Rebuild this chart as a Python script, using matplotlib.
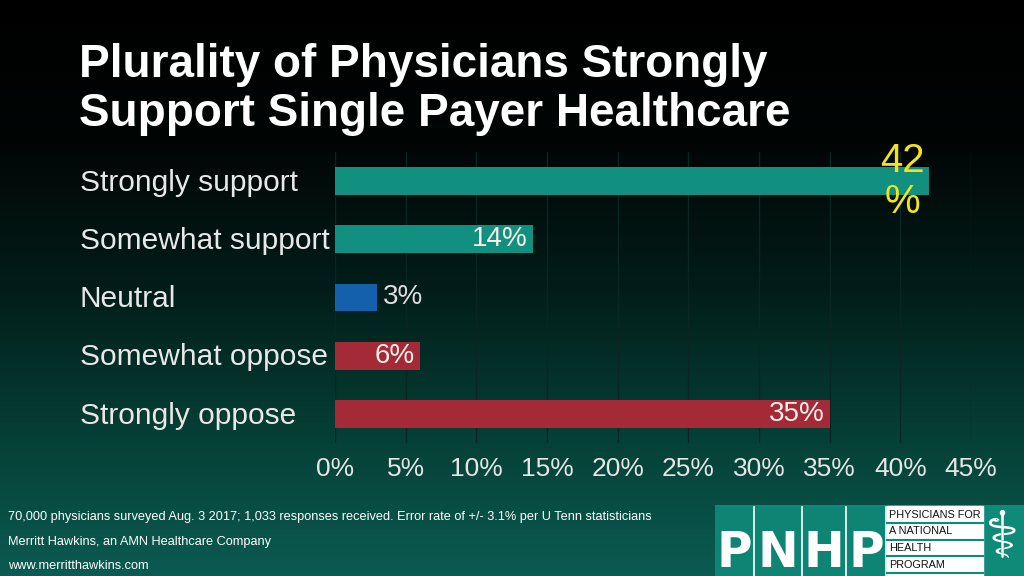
import numpy as np
import matplotlib
matplotlib.use("Agg")
import matplotlib.pyplot as plt
from matplotlib.patches import Rectangle
from matplotlib.colors import LinearSegmentedColormap
from matplotlib.transforms import blended_transform_factory

categories = ["Strongly support", "Somewhat support", "Neutral",
              "Somewhat oppose", "Strongly oppose"]
values = [42, 14, 3, 6, 35]
value_labels = ["42\n%", "14%", "3%", "6%", "35%"]
xticks = [0, 5, 10, 15, 20, 25, 30, 35, 40, 45]
xtick_labels = ["0%", "5%", "10%", "15%", "20%", "25%", "30%", "35%", "40%", "45%"]
title = "Plurality of Physicians Strongly\nSupport Single Payer Healthcare"
footer = ["70,000 physicians surveyed Aug. 3 2017; 1,033 responses received. Error rate of +/- 3.1% per U Tenn statisticians",
          "Merritt Hawkins, an AMN Healthcare Company",
          "www.merritthawkins.com"]

bar_colors = ["#11907f", "#11907f", "#1560ad", "#a52a38", "#a52a38"]

W, H = 1024, 576
fig = plt.figure(figsize=(W / 100, H / 100), dpi=100)

# background gradient
bg = fig.add_axes([0, 0, 1, 1], zorder=-10)
cmap = LinearSegmentedColormap.from_list(
    "bg", [(0.0, "#000000"), (0.25, "#010605"), (0.5, "#021d19"),
           (0.78, "#064238"), (1.0, "#0b5b52")])
grad = np.linspace(0, 1, 256).reshape(-1, 1)
bg.imshow(grad, aspect="auto", cmap=cmap, extent=[0, 1, 1, 0])
bg.set_axis_off()

def fx(px):
    return px / W

def fy(py):
    return 1 - py / H

sans = ["Liberation Sans", "DejaVu Sans"]

# title
fig.text(fx(79), fy(43), title, color="white", fontsize=33, fontweight="bold",
         family=sans, ha="left", va="top", linespacing=1.14)

# chart axes
x0, x1 = 335, 971
ytop, ybot = 152, 443
ax = fig.add_axes([fx(x0), fy(ybot), (x1 - x0) / W, (ybot - ytop) / H])
ax.set_facecolor("none")
ypos = np.arange(len(categories))
ax.barh(ypos, values, height=0.48, color=bar_colors, zorder=3)
ax.set_xlim(0, 45)
ax.set_ylim(len(categories) - 0.5, -0.5)
ax.set_xticks(xticks)
ax.set_xticklabels(xtick_labels, family=sans, fontsize=19, color="#e6e6e6")
ax.tick_params(axis="x", length=0, pad=10)
ax.set_yticks([])
for s in ax.spines.values():
    s.set_visible(False)
ax.grid(axis="x", color="#0b2622", linewidth=1, zorder=0)

# category labels
tr = blended_transform_factory(fig.transFigure, ax.transData)
for y, c in zip(ypos, categories):
    ax.text(fx(80), y + 0.03, c, transform=tr, ha="left", va="center",
            fontsize=21.5, color="#e8e8e8", family=sans)

# value labels
for y, v, lab in zip(ypos, values, value_labels):
    if v >= 40:
        ax.text(v - 1.85, y, lab, ha="center", va="center", fontsize=29,
                color="#f2e41c", family=sans, linespacing=1.1, zorder=5)
    elif v >= 5:
        ax.text(v - 0.35, y, lab, ha="right", va="center", fontsize=20,
                color="#f7eeea", family=sans, zorder=5)
    else:
        ax.text(v + 0.4, y, lab, ha="left", va="center", fontsize=20,
                color="#dddddd", family=sans, zorder=5)

# footer
for i, line in enumerate(footer):
    fig.text(fx(8), fy(517 + i * 24.5), line, color="white", fontsize=9.2,
             family=sans, ha="left", va="center")

# PNHP logo
la = fig.add_axes([fx(715), 0, (W - 715) / W, fy(505)])
la.set_xlim(715, W)
la.set_ylim(576, 505)
la.set_axis_off()
la.add_patch(Rectangle((715, 505), W - 715, 71, color="#0f8a79"))
cells = [(715, 753), (755, 801), (803, 845), (847, 885)]
for (a, b), letter in zip(cells, "PNHP"):
    la.add_patch(Rectangle((a, 507), b - a, 69, color="#0d8474"))
    la.text((a + b) / 2, 553, letter, ha="center", va="center", color="white",
            fontsize=35, fontweight="heavy", family=["DejaVu Sans"])
for xs in [753, 801, 845, 885]:
    la.plot([xs + 1, xs + 1], [507, 576], color="white", lw=1.2)
la.add_patch(Rectangle((887, 506), 96, 70, color="white"))
rows = ["PHYSICIANS FOR", "A NATIONAL", "HEALTH", "PROGRAM"]
for i, r in enumerate(rows):
    yy = 515 + i * 16.5
    la.text(889, yy, r, ha="left", va="center", fontsize=7.8, color="#111111",
            family=sans)
    la.plot([887, 983], [yy + 8, yy + 8], color="#0f8a79", lw=1.5)
la.text(1001, 539, "\u2695", ha="center", va="center", fontsize=46,
        color="white", family=["DejaVu Sans"])

fig.savefig("out.png", dpi=100, facecolor="black")
